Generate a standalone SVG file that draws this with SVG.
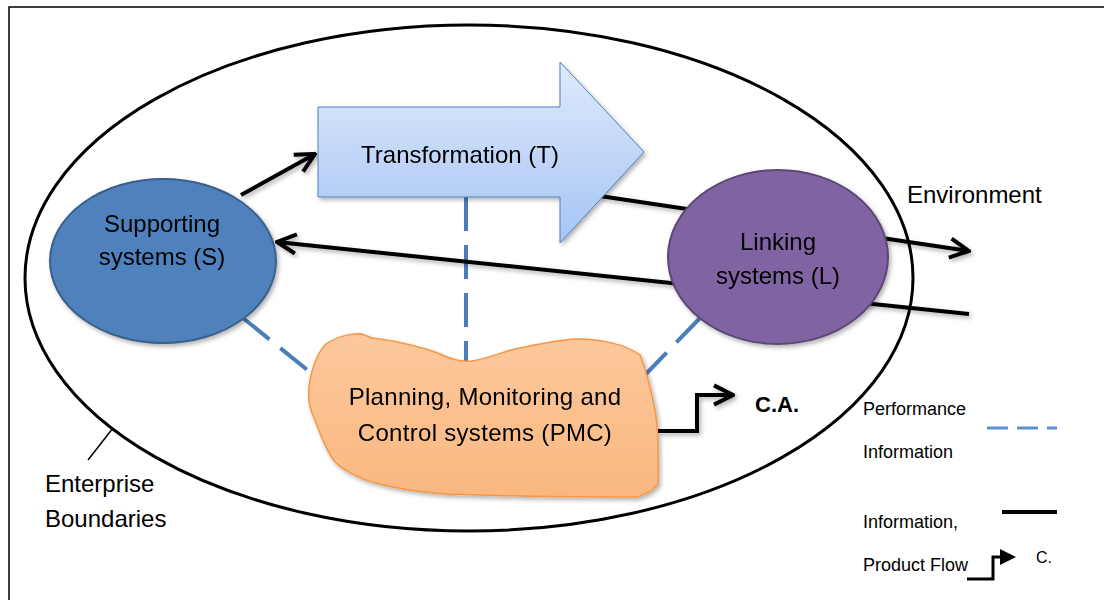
<svg xmlns="http://www.w3.org/2000/svg" width="1104" height="600" viewBox="0 0 1104 600">
  <style>
    .t { font-family: "Liberation Sans", Arial, sans-serif; fill: #000; }
    .node { font-size: 24px; text-anchor: middle; }
    .flow { fill: none; stroke: #000; stroke-width: 4; }
    .perf { fill: none; stroke: #4a7ebb; stroke-width: 4; stroke-dasharray: 34 14; }
    .leg { font-size: 18px; }
  </style>
  <defs>
    <linearGradient id="gT" x1="0" y1="0" x2="0" y2="1">
      <stop offset="0" stop-color="#dfeafc"/>
      <stop offset="1" stop-color="#a6c4f3"/>
    </linearGradient>
    <linearGradient id="gP" x1="0" y1="0" x2="0" y2="1">
      <stop offset="0" stop-color="#fcc89c"/>
      <stop offset="1" stop-color="#fab880"/>
    </linearGradient>
    <filter id="sh" x="-10%" y="-10%" width="130%" height="130%">
      <feDropShadow dx="2" dy="2.5" stdDeviation="2" flood-color="#000" flood-opacity="0.3"/>
    </filter>
    <marker id="open" viewBox="0 0 12 12" refX="11" refY="6" markerWidth="24" markerHeight="24" markerUnits="userSpaceOnUse" orient="auto">
      <path d="M1.5,1.2 L11,6 L1.5,10.8" fill="none" stroke="#000" stroke-width="2"/>
    </marker>
  </defs>

  <rect x="9" y="7" width="1100" height="600" fill="#fff" stroke="#000" stroke-width="1.5"/>

  <g id="enterprise-boundary">
    <ellipse cx="469" cy="278" rx="444" ry="253" fill="none" stroke="#000" stroke-width="3"/>
    <line x1="88" y1="460" x2="113" y2="428" stroke="#000" stroke-width="1.5"/>
    <text class="t" x="45" y="492" font-size="24">Enterprise</text>
    <text class="t" x="45" y="527" font-size="24">Boundaries</text>
  </g>

  <g id="environment">
    <text class="t" x="907" y="203" font-size="24">Environment</text>
  </g>

  <g id="connectors">
    <line class="perf" x1="243" y1="318" x2="316" y2="377"/>
    <line class="perf" x1="466" y1="197" x2="466" y2="366"/>
    <line class="perf" x1="700" y1="318" x2="644" y2="376"/>
    <g filter="url(#sh)">
      <line class="flow" x1="241" y1="195" x2="315" y2="154" marker-end="url(#open)"/>
      <line class="flow" x1="600" y1="196" x2="969" y2="251" marker-end="url(#open)"/>
      <line class="flow" x1="969" y1="314" x2="277" y2="242" marker-end="url(#open)"/>
      <polyline class="flow" points="658,431 697,431 697,395 733,395" marker-end="url(#open)"/>
    </g>
  </g>

  <g id="transformation" filter="url(#sh)">
    <path d="M318,107 L560,107 L560,62 L644,152 L560,243 L560,197 L318,197 Z" fill="url(#gT)" stroke="#4f81bd" stroke-width="1"/>
    <text class="t node" x="460" y="163">Transformation (T)</text>
  </g>

  <g id="supporting" filter="url(#sh)">
    <ellipse cx="163" cy="261" rx="113" ry="82" fill="#4f81bd" stroke="#3a5f8b" stroke-width="2"/>
    <text class="t node" x="162" y="232">Supporting</text>
    <text class="t node" x="162" y="265">systems (S)</text>
  </g>

  <g id="linking" filter="url(#sh)">
    <ellipse cx="778" cy="257" rx="110" ry="87" fill="#8064a2" stroke="#5c4776" stroke-width="2"/>
    <text class="t node" x="778" y="250">Linking</text>
    <text class="t node" x="778" y="284">systems (L)</text>
  </g>

  <g id="pmc" filter="url(#sh)">
    <path d="M326,344 C338,336 352,333 362,334 L372,338 C390,340 420,346 440,354 C452,360 462,362 472,361 C490,358 502,352 515,349 C535,345 555,340 577,339 C600,339 625,344 640,355 C648,375 652,395 655,410 C659,430 658,455 658,484 L651,491 L638,497 C580,497 500,496 447,494 C420,492 395,488 380,484 C365,481 345,472 335,462 C325,450 320,432 314,418 C308,405 308,390 310,380 C313,365 318,352 326,344 Z" fill="url(#gP)" stroke="#f79646" stroke-width="1.5"/>
    <text class="t node" x="485" y="405" letter-spacing="0.3">Planning, Monitoring and</text>
    <text class="t node" x="485" y="441" letter-spacing="0.3">Control systems (PMC)</text>
  </g>

  <g id="ca">
    <text class="t" x="755" y="412" font-size="22" font-weight="bold">C.A.</text>
  </g>

  <g id="legend">
    <text class="t leg" x="863" y="415">Performance</text>
    <text class="t leg" x="863" y="458">Information</text>
    <line x1="987" y1="428" x2="1057" y2="428" stroke="#5b8fd8" stroke-width="3" stroke-dasharray="21 9"/>
    <text class="t leg" x="863" y="528">Information,</text>
    <text class="t leg" x="863" y="571">Product Flow</text>
    <line x1="1002" y1="512" x2="1057" y2="512" stroke="#000" stroke-width="4"/>
    <polyline points="967,579 993,579 993,557 1003,557" fill="none" stroke="#000" stroke-width="3"/>
    <polygon points="1000,549 1016,557 1000,565" fill="#000"/>
    <text class="t" x="1036" y="563" font-size="16">C.</text>
  </g>
</svg>
